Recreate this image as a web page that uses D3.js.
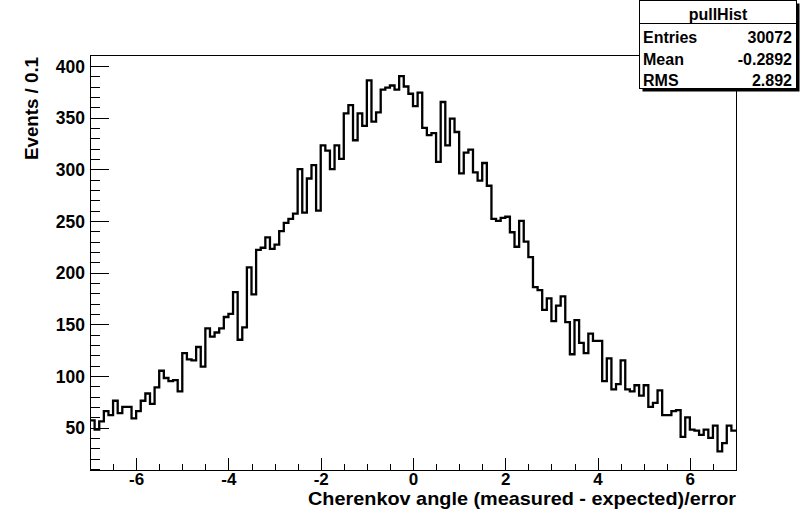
<!DOCTYPE html>
<html><head><meta charset="utf-8">
<script src="https://cdn.jsdelivr.net/npm/d3@7"></script>
<style>
body{margin:0;background:#fff}
text{font-family:"Liberation Sans",Arial,Helvetica,sans-serif;font-weight:bold;fill:#000}
</style></head>
<body><svg id="c" width="800" height="515"></svg>
<script>
// ---- data ----
const binLow = -7, binWidth = 0.1;
const counts = [
57,48,56,66,62,76,64,70,70,59,
66,76,83,73,89,105,98,95,96,85,
122,116,115,128,109,146,138,142,146,157,
160,181,135,147,205,179,222,224,234,223,
227,240,248,252,257,300,258,291,304,260,
323,318,300,323,310,354,362,328,354,342,
386,346,355,377,379,381,377,390,380,373,
361,374,340,333,335,307,365,323,349,336,
296,316,319,297,289,306,284,252,250,253,
254,239,225,250,230,215,186,183,164,175,
153,168,177,152,121,154,132,122,141,134,
134,95,117,87,92,115,87,85,91,81,
91,70,74,86,62,62,66,67,41,60,
48,47,43,48,40,52,27,35,52,47];
const xMajor = [-6,-4,-2,0,2,4,6];
const xMinor = [-6.5,-5.5,-5,-4.5,-3.5,-3,-2.5,-1.5,-1,-0.5,0.5,1,1.5,2.5,3,3.5,4.5,5,5.5,6.5];
const yMajor = [50,100,150,200,250,300,350,400];
const yMinor = [10,20,30,40,60,70,80,90,110,120,130,140,160,170,180,190,210,220,230,240,260,270,280,290,310,320,330,340,360,370,380,390];
const xTitle = "Cherenkov angle (measured - expected)/error";
const yTitle = "Events / 0.1";
const statsTitle = "pullHist";
const statsLabels = ["Entries","Mean","RMS"];
const statsValues = ["30072","-0.2892","2.892"];

// ---- scales ----
const svg = d3.select('#c');
const x = d3.scaleLinear().domain([-7,7]).range([90,736]);
const y = d3.scaleLinear().domain([9,410]).range([470,55.5]);

// frame
svg.append('rect')
  .attr('x',x(-7)).attr('y',y(410))
  .attr('width',x(7)-x(-7)).attr('height',y(9)-y(410))
  .attr('fill','none').attr('stroke','#000').attr('stroke-width',1)
  .attr('shape-rendering','crispEdges');

// x axis (ticks inward)
const gx = svg.append('g').attr('transform',`translate(0,${y(9)})`);
gx.call(d3.axisBottom(x).tickValues(xMajor).tickSize(-12.4).tickSizeOuter(0)
  .tickFormat(d=>String(d)));
gx.select('.domain').remove();
gx.selectAll('.tick line').attr('stroke','#000').attr('shape-rendering','crispEdges');
gx.selectAll('.tick text').attr('y',15).attr('dy',0)
  .style('font-size','17px').style('font-family','"Liberation Sans",Arial,sans-serif').style('font-weight','bold');
const gxm = svg.append('g').attr('transform',`translate(0,${y(9)})`);
gxm.call(d3.axisBottom(x).tickValues(xMinor).tickSize(-6.2).tickSizeOuter(0).tickFormat(''));
gxm.select('.domain').remove();
gxm.selectAll('.tick line').attr('stroke','#000').attr('shape-rendering','crispEdges');

// y axis
const gy = svg.append('g').attr('transform',`translate(${x(-7)},0)`);
gy.call(d3.axisLeft(y).tickValues(yMajor).tickSize(-19.4).tickSizeOuter(0)
  .tickFormat(d=>String(d)));
gy.select('.domain').remove();
gy.selectAll('.tick line').attr('stroke','#000').attr('shape-rendering','crispEdges');
gy.selectAll('.tick text').attr('x',-5).attr('dy','0.36em')
  .style('font-size','17.5px').style('font-family','"Liberation Sans",Arial,sans-serif').style('font-weight','bold');
const gym = svg.append('g').attr('transform',`translate(${x(-7)},0)`);
gym.call(d3.axisLeft(y).tickValues(yMinor).tickSize(-9.7).tickSizeOuter(0).tickFormat(''));
gym.select('.domain').remove();
gym.selectAll('.tick line').attr('stroke','#000').attr('shape-rendering','crispEdges');

// histogram outline
const pts = counts.map((c,i)=>[binLow+i*binWidth, c]);
pts.push([binLow+counts.length*binWidth, counts[counts.length-1]]);
const line = d3.line().x(d=>x(d[0])).y(d=>y(d[1])).curve(d3.curveStepAfter);
svg.append('path').attr('d',line(pts))
  .attr('fill','none').attr('stroke','#000').attr('stroke-width',2.3)
  .attr('stroke-linejoin','miter');

// titles
function fit(t, len){
  if (len) t.attr('textLength',len).attr('lengthAdjust','spacingAndGlyphs');
}
const xt = svg.append('text').attr('x',736).attr('y',505)
  .attr('text-anchor','end').style('font-size','19px').text(xTitle);
fit(xt,428);
const yt = svg.append('text').attr('transform','translate(37.5,57) rotate(-90)')
  .attr('text-anchor','end').style('font-size','19px').text(yTitle);
fit(yt,103);

// stats box
const bx = 639.5, by = 0.5, bw = 157, bh = 88;
svg.append('rect').attr('x',bx+3).attr('y',by+3).attr('width',bw).attr('height',bh).attr('fill','#000');
svg.append('rect').attr('x',bx).attr('y',by).attr('width',bw).attr('height',bh)
  .attr('fill','#fff').attr('stroke','#000').attr('stroke-width',1);
svg.append('line').attr('x1',bx).attr('x2',bx+bw).attr('y1',23.5).attr('y2',23.5).attr('stroke','#000');
svg.append('text').attr('x',bx+bw/2).attr('y',20).attr('text-anchor','middle')
  .style('font-size','16px').text(statsTitle);
const rowY = [42.5,64.5,86];
statsLabels.forEach((l,i)=>{
  svg.append('text').attr('x',643).attr('y',rowY[i]).style('font-size','16px').text(l);
  svg.append('text').attr('x',792).attr('y',rowY[i]).attr('text-anchor','end').style('font-size','16px').text(statsValues[i]);
});
</script></body></html>
